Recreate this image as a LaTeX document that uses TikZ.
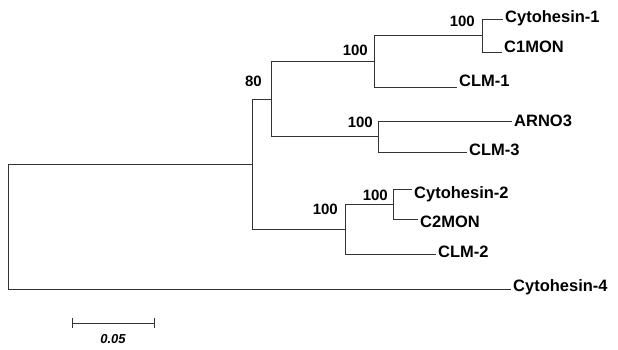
\documentclass[tikz,border=0pt]{standalone}
\usepackage{fontspec}
\setmainfont{Liberation Sans}
\usetikzlibrary{positioning, calc}

\begin{document}
\begin{tikzpicture}[x=1pt, y=-1pt,
  branch/.style={line width=0.8pt, black!80},
  leaf/.style={anchor=west, inner sep=2pt, font=\bfseries\fontsize{16.5}{16.5}\selectfont},
  boot/.style={anchor=east, inner sep=0pt, font=\bfseries\fontsize{15}{15}\selectfont}]

\useasboundingbox (0,0) rectangle (618,349);

% --- Internal nodes (x = distance, y = row) ---
\coordinate (root) at (8,226.5);
\coordinate (nA)   at (252,164);
\coordinate (n80)  at (271,99);
\coordinate (nB)   at (374,61);
\coordinate (nB1)  at (482,35);
\coordinate (nC)   at (378,136.5);
\coordinate (nD)   at (345,229);
\coordinate (nD1)  at (393,204);

% --- Tips ---
\coordinate (tCyt1)  at (503,19);
\coordinate (tC1MON) at (502,52);
\coordinate (tCLM1)  at (457,87);
\coordinate (tARNO3) at (512,121);
\coordinate (tCLM3)  at (467,152);
\coordinate (tCyt2)  at (412,189);
\coordinate (tC2MON) at (418,219);
\coordinate (tCLM2)  at (436,254);
\coordinate (tCyt4)  at (511,289);

% --- Branches ---
\draw[branch] (root) |- (nA)    (root) |- (tCyt4);
\draw[branch] (nA)   |- (n80)   (nA)   |- (nD);
\draw[branch] (n80)  |- (nB)    (n80)  |- (nC);
\draw[branch] (nB)   |- (nB1)   (nB)   |- (tCLM1);
\draw[branch] (nB1)  |- (tCyt1) (nB1)  |- (tC1MON);
\draw[branch] (nC)   |- (tARNO3) (nC)  |- (tCLM3);
\draw[branch] (nD)   |- (nD1)   (nD)   |- (tCLM2);
\draw[branch] (nD1)  |- (tCyt2) (nD1)  |- (tC2MON);

% --- Leaf labels ---
\node[leaf, yshift=1pt] (lCyt1)  at (tCyt1)  {Cytohesin-1};
\node[leaf, yshift=5pt] (lC1MON) at (tC1MON) {C1MON};
\node[leaf, yshift=6pt] (lCLM1)  at (tCLM1)  {CLM-1};
\node[leaf]             (lARNO3) at (tARNO3) {ARNO3};
\node[leaf, yshift=2pt] (lCLM3)  at (tCLM3)  {CLM-3};
\node[leaf, yshift=-5pt] (lCyt2) at (tCyt2)  {Cytohesin-2};
\node[leaf, yshift=-3pt] (lC2MON) at (tC2MON) {C2MON};
\node[leaf, yshift=2pt] (lCLM2)  at (tCLM2)  {CLM-2};
\node[leaf, yshift=2pt] (lCyt4)  at (tCyt4)  {Cytohesin-4};

% --- Bootstrap values ---
\node[boot] (b80)  at (262,81)  {80};
\node[boot] (bB)   at (368,50)  {100};
\node[boot] (bB1)  at (475,21)  {100};
\node[boot] (bC)   at (373,122) {100};
\node[boot] (bD)   at (338,209) {100};
\node[boot] (bD1)  at (388,195) {100};

% --- Scale bar ---
\coordinate (sbL) at (72,323);
\coordinate (sbR) at (154,323);
\draw[branch] (sbL) -- (sbR);
\draw[branch] ([yshift=5pt]sbL) -- ([yshift=-5pt]sbL);
\draw[branch] ([yshift=5pt]sbR) -- ([yshift=-5pt]sbR);
\node[font=\bfseries\itshape\fontsize{13}{13}\selectfont, below=8pt of $(sbL)!0.5!(sbR)$] (sbLab) {0.05};

\end{tikzpicture}
\end{document}
